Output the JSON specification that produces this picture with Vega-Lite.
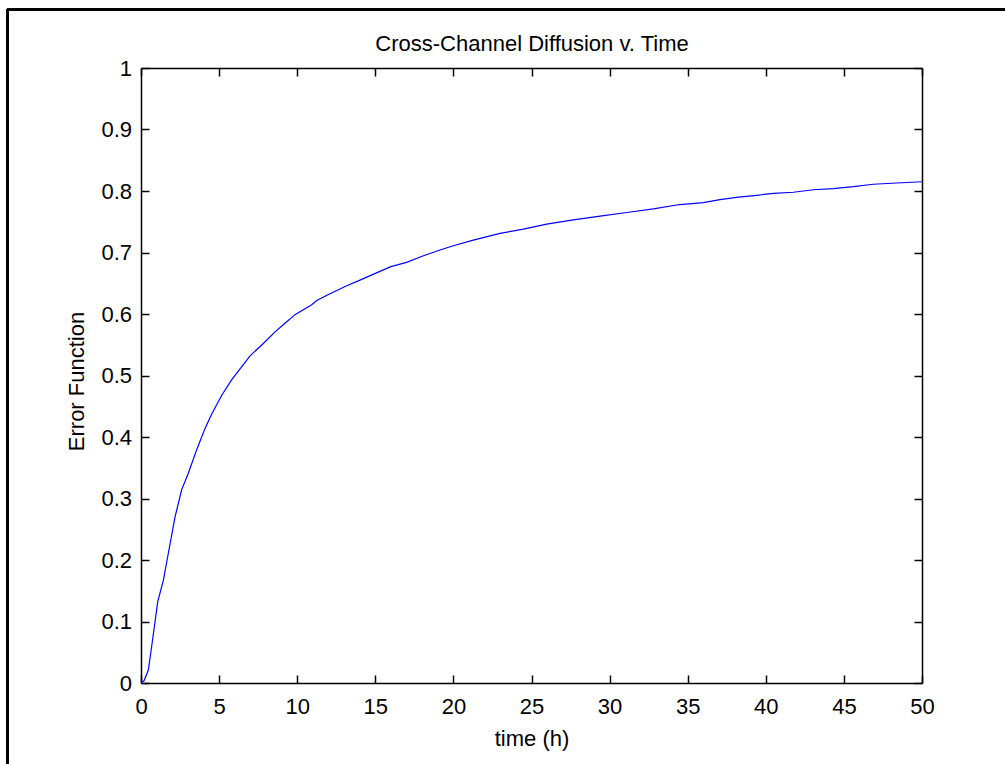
{
  "$schema": "https://vega.github.io/schema/vega-lite/v6.json",
  "width": 781,
  "height": 615,
  "autosize": "none",
  "padding": {"left": 141, "top": 68, "right": 83, "bottom": 81},
  "background": "white",
  "data": {
    "values": [
      {"t": 0, "v": 0},
      {"t": 0.2, "v": 0.004},
      {"t": 0.47, "v": 0.021},
      {"t": 0.68, "v": 0.059},
      {"t": 1.07, "v": 0.132},
      {"t": 1.43, "v": 0.167},
      {"t": 1.75, "v": 0.211},
      {"t": 2.18, "v": 0.27},
      {"t": 2.6, "v": 0.314},
      {"t": 3.03, "v": 0.341},
      {"t": 3.56, "v": 0.379},
      {"t": 4.1, "v": 0.414},
      {"t": 4.52, "v": 0.437},
      {"t": 5.17, "v": 0.468},
      {"t": 5.8, "v": 0.493},
      {"t": 6.98, "v": 0.532},
      {"t": 7.83, "v": 0.552},
      {"t": 8.58, "v": 0.571},
      {"t": 9.22, "v": 0.585},
      {"t": 9.86, "v": 0.599},
      {"t": 10.93, "v": 0.615},
      {"t": 11.25, "v": 0.622},
      {"t": 12.1, "v": 0.633},
      {"t": 13.17, "v": 0.646},
      {"t": 14.02, "v": 0.655},
      {"t": 15, "v": 0.666},
      {"t": 16, "v": 0.677},
      {"t": 17, "v": 0.684},
      {"t": 18, "v": 0.694},
      {"t": 19.14, "v": 0.704},
      {"t": 20, "v": 0.711},
      {"t": 21.27, "v": 0.72},
      {"t": 22.98, "v": 0.731},
      {"t": 24.48, "v": 0.738},
      {"t": 25.97, "v": 0.746},
      {"t": 27.68, "v": 0.753},
      {"t": 29.39, "v": 0.759},
      {"t": 31.1, "v": 0.765},
      {"t": 32.8, "v": 0.771},
      {"t": 34.5, "v": 0.778},
      {"t": 36, "v": 0.781},
      {"t": 37.07, "v": 0.786},
      {"t": 38.24, "v": 0.79},
      {"t": 39.42, "v": 0.793},
      {"t": 40.48, "v": 0.796},
      {"t": 41.76, "v": 0.798},
      {"t": 43.04, "v": 0.802},
      {"t": 44.32, "v": 0.804},
      {"t": 45.6, "v": 0.807},
      {"t": 46.88, "v": 0.811},
      {"t": 48.38, "v": 0.813},
      {"t": 50, "v": 0.815}
    ]
  },
  "config": {
    "view": {"stroke": null},
    "axis": {
      "labelFont": "Liberation Sans",
      "titleFont": "Liberation Sans",
      "labelFontSize": 22,
      "titleFontSize": 22,
      "titleFontWeight": "normal",
      "labelColor": "black",
      "titleColor": "black",
      "domainColor": "black",
      "domainWidth": 1.5,
      "tickColor": "black",
      "tickWidth": 1.5,
      "tickSize": -8,
      "grid": false,
      "labelFlush": false,
      "labelOverlap": false
    }
  },
  "resolve": {"axis": {"x": "independent", "y": "independent"}},
  "layer": [
    {
      "mark": {"type": "line", "stroke": "#0000ff", "strokeWidth": 1.2, "interpolate": "linear"},
      "encoding": {
        "x": {
          "field": "t",
          "type": "quantitative",
          "scale": {"domain": [0, 50], "nice": false, "zero": false},
          "axis": {
            "orient": "bottom",
            "title": "time (h)",
            "values": [0, 5, 10, 15, 20, 25, 30, 35, 40, 45, 50],
            "labelPadding": 21,
            "titleX": 390.5,
            "titleY": 62,
            "titleAlign": "center",
            "titleBaseline": "alphabetic"
          }
        },
        "y": {
          "field": "v",
          "type": "quantitative",
          "scale": {"domain": [0, 1], "nice": false, "zero": false},
          "axis": {
            "orient": "left",
            "title": "Error Function",
            "values": [0, 0.1, 0.2, 0.3, 0.4, 0.5, 0.6, 0.7, 0.8, 0.9, 1],
            "format": "~g",
            "labelPadding": 17.5,
            "titleAngle": 270,
            "titleX": -58,
            "titleY": 313,
            "titleAlign": "center",
            "titleBaseline": "alphabetic"
          }
        }
      }
    },
    {
      "mark": {"type": "line", "strokeOpacity": 0},
      "encoding": {
        "x": {
          "field": "t",
          "type": "quantitative",
          "scale": {"domain": [0, 50], "nice": false, "zero": false},
          "axis": {
            "orient": "top",
            "title": "Cross-Channel Diffusion v. Time",
            "labels": false,
            "values": [0, 5, 10, 15, 20, 25, 30, 35, 40, 45, 50],
            "titleX": 390.5,
            "titleY": -18,
            "titleAlign": "center",
            "titleBaseline": "alphabetic"
          }
        },
        "y": {
          "field": "v",
          "type": "quantitative",
          "scale": {"domain": [0, 1], "nice": false, "zero": false},
          "axis": {
            "orient": "right",
            "title": null,
            "labels": false,
            "values": [0, 0.1, 0.2, 0.3, 0.4, 0.5, 0.6, 0.7, 0.8, 0.9, 1]
          }
        }
      }
    },
    {
      "mark": {"type": "rule", "stroke": "black", "strokeWidth": 2},
      "encoding": {
        "x": {"datum": -8.547, "type": "quantitative", "scale": {"domain": [0, 50], "nice": false, "zero": false}, "axis": null},
        "y": {"datum": -0.15, "type": "quantitative", "scale": {"domain": [0, 1], "nice": false, "zero": false}, "axis": null},
        "y2": {"datum": 1.0951}
      }
    },
    {
      "mark": {"type": "rule", "stroke": "black", "strokeWidth": 2},
      "encoding": {
        "x": {"datum": -8.547, "type": "quantitative", "scale": {"domain": [0, 50], "nice": false, "zero": false}, "axis": null},
        "x2": {"datum": 56},
        "y": {"datum": 1.0951, "type": "quantitative", "scale": {"domain": [0, 1], "nice": false, "zero": false}, "axis": null}
      }
    }
  ]
}
